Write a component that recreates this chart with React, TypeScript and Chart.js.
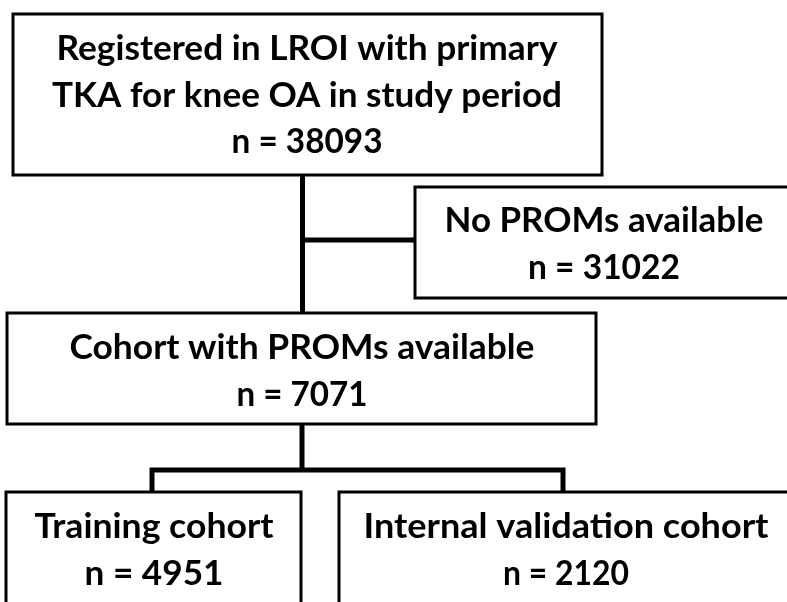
import React, { useEffect, useRef } from "react";
import { Chart, registerables } from "chart.js";

Chart.register(...registerables);

// ---- data ----
const stageLines: string[][] = [
  ["Registered in LROI with primary", "TKA for knee OA in study period"],
  ["No PROMs available"],
  ["Cohort with PROMs available"],
  ["Training cohort"],
  ["Internal validation cohort"],
];
const stageCounts: number[] = [38093, 31022, 7071, 4951, 2120];

// ---- layout (pixel space of the 787x602 canvas) ----
const W = 787;
const H = 602;
const boxes = [
  { x0: 13, y0: 14, x1: 602, y1: 175, cx: 307, top: 60, widths: [501, 510, 151] },
  { x0: 415, y0: 187, x1: 810, y1: 298, cx: 604, top: 232, widths: [319, 152] },
  { x0: 7, y0: 313, x1: 596, y1: 424, cx: 302, top: 359, widths: [465, 131] },
  { x0: 6, y0: 492, x1: 301, y1: 620, cx: 154, top: 538, widths: [239, 139] },
  { x0: 339, y0: 492, x1: 810, y1: 620, cx: 566, top: 538, widths: [405, 126] },
];
const LINE_GAP = 46.5;
const connectors = [
  [[302.5, 175], [302.5, 313]],
  [[302.5, 240], [415, 240]],
  [[302, 424], [302, 470]],
  [[152, 492], [152, 470], [563, 470], [563, 492]],
];

export default function App() {
  const ref = useRef<HTMLCanvasElement | null>(null);

  useEffect(() => {
    document.body.style.margin = "0";
    const canvas = ref.current;
    if (!canvas) return;

    const datasets: any[] = [];
    boxes.forEach((b) => {
      datasets.push({
        data: [
          { x: b.x0, y: b.y0 },
          { x: b.x1, y: b.y0 },
          { x: b.x1, y: b.y1 },
          { x: b.x0, y: b.y1 },
          { x: b.x0, y: b.y0 },
        ],
        showLine: true,
        borderColor: "#000",
        borderWidth: 3,
        pointRadius: 0,
        borderJoinStyle: "miter",
        borderCapStyle: "square",
        fill: false,
        tension: 0,
        clip: false,
      });
    });
    connectors.forEach((c) => {
      datasets.push({
        data: c.map(([x, y]) => ({ x, y })),
        showLine: true,
        borderColor: "#000",
        borderWidth: 5,
        pointRadius: 0,
        borderJoinStyle: "miter",
        borderCapStyle: "butt",
        fill: false,
        tension: 0,
        clip: false,
      });
    });

    const textPlugin = {
      id: "flowText",
      afterDatasetsDraw(chart: any) {
        const ctx = chart.ctx as CanvasRenderingContext2D;
        const xs = chart.scales.x;
        const ys = chart.scales.y;
        ctx.save();
        ctx.fillStyle = "#000";
        ctx.font = "bold 34px Lato";
        ctx.textAlign = "center";
        ctx.textBaseline = "alphabetic";
        boxes.forEach((b, i) => {
          const lines = [...stageLines[i], `n = ${stageCounts[i]}`];
          lines.forEach((t, j) => {
            const px = xs.getPixelForValue(b.cx);
            const py = ys.getPixelForValue(b.top + j * LINE_GAP);
            const m = ctx.measureText(t).width;
            const sx = b.widths[j] / m;
            ctx.save();
            ctx.translate(px, py);
            ctx.scale(sx, 1);
            ctx.fillText(t, 0, 0);
            ctx.restore();
          });
        });
        ctx.restore();
      },
    };

    const chart = new Chart(canvas, {
      type: "scatter",
      data: { datasets },
      options: {
        animation: false,
        responsive: false,
        maintainAspectRatio: false,
        layout: { padding: 0 },
        plugins: { legend: { display: false }, tooltip: { enabled: false } },
        scales: {
          x: { type: "linear", min: 0, max: W, display: false },
          y: { type: "linear", min: 0, max: H, reverse: true, display: false },
        },
      },
      plugins: [textPlugin],
    });
    return () => chart.destroy();
  }, []);

  return (
    <div style={{ width: W, height: H, background: "#fff" }}>
      <canvas ref={ref} width={W} height={H} style={{ display: "block" }} />
    </div>
  );
}
